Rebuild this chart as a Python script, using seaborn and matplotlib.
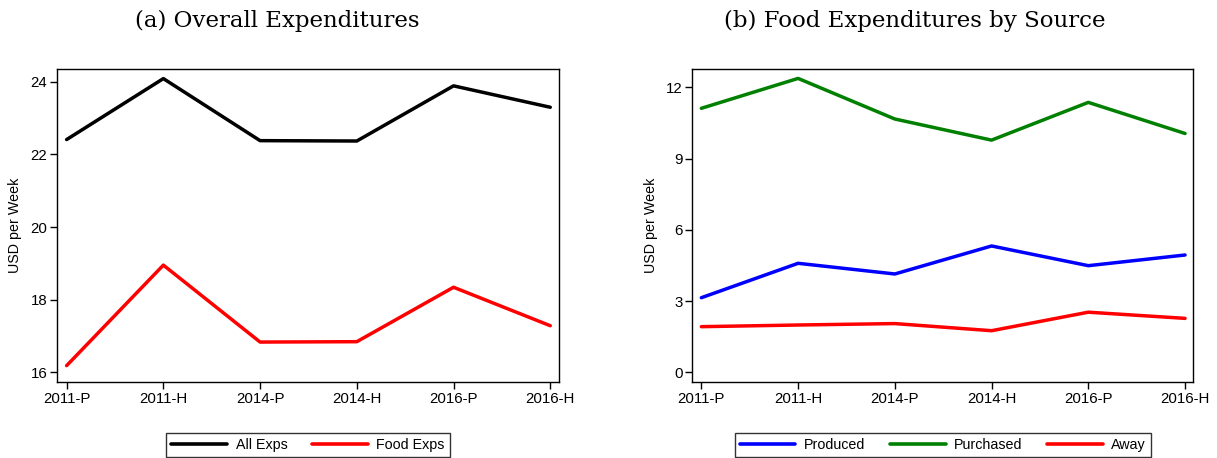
import matplotlib
matplotlib.use("Agg")
import matplotlib.pyplot as plt
import seaborn as sns
import pandas as pd

periods = ["2011-P", "2011-H", "2014-P", "2014-H", "2016-P", "2016-H"]

all_exps = [22.41, 24.09, 22.38, 22.37, 23.89, 23.30]
food_exps = [16.18, 18.95, 16.83, 16.84, 18.34, 17.28]

produced = [3.14, 4.59, 4.14, 5.32, 4.49, 4.94]
purchased = [11.12, 12.38, 10.67, 9.78, 11.37, 10.06]
away = [1.92, 1.99, 2.05, 1.75, 2.53, 2.27]

left_series = {"All Exps": all_exps, "Food Exps": food_exps}
right_series = {"Produced": produced, "Purchased": purchased, "Away": away}
left_colors = {"All Exps": "#000000", "Food Exps": "#ff0000"}
right_colors = {"Produced": "#0000ff", "Purchased": "#008000", "Away": "#ff0000"}


def long_df(series):
    rows = []
    for name, vals in series.items():
        for p, v in zip(periods, vals):
            rows.append({"period": p, "value": v, "series": name})
    return pd.DataFrame(rows)


sns.set_theme(style="ticks")
plt.rcParams["font.family"] = ["Liberation Sans", "DejaVu Sans"]
plt.rcParams["text.color"] = "black"
plt.rcParams["axes.labelcolor"] = "black"
plt.rcParams["xtick.color"] = "black"
plt.rcParams["ytick.color"] = "black"

fig = plt.figure(figsize=(12.17, 4.58), dpi=100)
axL = fig.add_axes([0.0468, 0.166, 0.4125, 0.683])
axR = fig.add_axes([0.5689, 0.166, 0.4116, 0.683])

tick_fs = 10.8
leg_fs = 10.3


def style(ax, series, colors, ylim, yticks, xlim, title_x, title):
    df = long_df(series)
    sns.lineplot(data=df, x="period", y="value", hue="series", palette=colors,
                 hue_order=list(series.keys()), sort=False, linewidth=2.5,
                 ax=ax, legend=True)
    ax.set_ylim(*ylim)
    ax.set_yticks(yticks)
    ax.set_yticklabels([str(t) for t in yticks])
    ax.set_xlim(*xlim)
    ax.set_xticks(range(len(periods)))
    ax.set_xticklabels(periods)
    ax.set_xlabel("")
    ax.set_ylabel("USD per Week", fontsize=leg_fs, color="black", labelpad=6)
    ax.tick_params(axis="both", labelsize=tick_fs, length=5, width=1,
                   color="black", labelcolor="black", direction="out", pad=2)
    for s in ax.spines.values():
        s.set_visible(True)
        s.set_color("black")
        s.set_linewidth(1.0)
    handles, labels = ax.get_legend_handles_labels()
    ax.get_legend().remove()
    leg = ax.legend(handles, labels, loc="upper center",
                    bbox_to_anchor=(0.5, -0.14), ncol=len(labels),
                    frameon=True, fancybox=False, edgecolor="black",
                    fontsize=leg_fs, handlelength=3.9, columnspacing=1.7,
                    borderpad=0.35, handletextpad=0.6)
    leg.get_frame().set_linewidth(1.0)
    for line in leg.get_lines():
        line.set_linewidth(2.6)
    fig.text(title_x, 0.955, title, ha="center", va="center",
             fontsize=16.5, color="black", family=["DejaVu Serif"])


style(axL, left_series, left_colors, (15.73, 24.35), [16, 18, 20, 22, 24],
      (-0.10, 5.09), 0.228, "(a) Overall Expenditures")
style(axR, right_series, right_colors, (-0.41, 12.77), [0, 3, 6, 9, 12],
      (-0.093, 5.085), 0.752, "(b) Food Expenditures by Source")

fig.savefig("out.png", dpi=100)
